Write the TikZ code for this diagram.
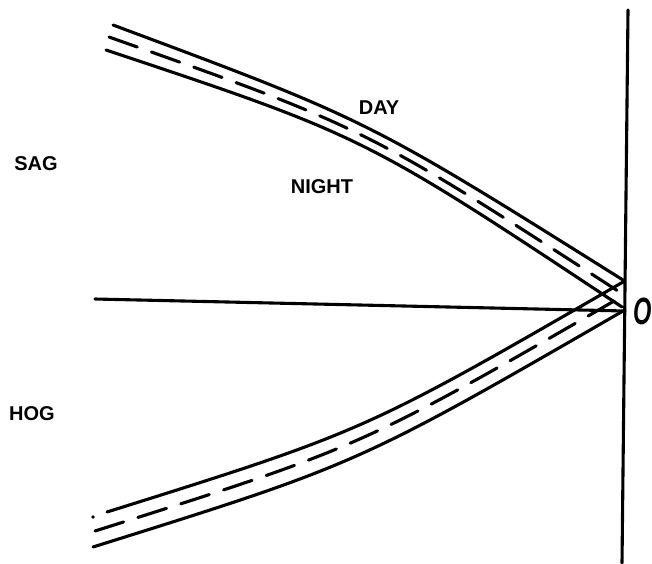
\documentclass[tikz,border=0pt]{standalone}
\usepackage{fontspec}
\setmainfont{Liberation Sans}
\begin{document}
\begin{tikzpicture}[x=1pt,y=-1pt,
  solidline/.style={line width=3.1pt,line cap=round},
  dashline/.style={line width=3.1pt,line cap=round,dash pattern=on 30pt off 15pt},
  lbl/.style={font=\bfseries\fontsize{20}{20}\selectfont,inner sep=0pt}]
\useasboundingbox (0,0) rectangle (652,563);
% axes
\coordinate (vt) at (628,10);
\coordinate (vb) at (622,563);
\draw[solidline] (vt) -- (vb);
\coordinate (hl) at (95,299);
\coordinate (hr) at (625,311);
\draw[solidline] (hl) -- (hr);
% upper band
\coordinate (u1a) at (113,25);  \coordinate (u1b) at (623,280);
\coordinate (u2a) at (109,37);  \coordinate (u2b) at (621,293);
\coordinate (u3a) at (106,50);  \coordinate (u3b) at (622,307);
\draw[solidline] (u1a) .. controls (368,120) .. (u1b);
\draw[dashline]  (u2a) .. controls (366,128) .. (u2b);
\draw[solidline] (u3a) .. controls (364,136) .. (u3b);
% lower band
\coordinate (l1a) at (107,512); \coordinate (l1b) at (623,282);
\coordinate (l2a) at (95,531);  \coordinate (l2b) at (621,297);
\coordinate (l3a) at (93,547);  \coordinate (l3b) at (623,311);
\draw[solidline] (l1a) .. controls (365,431) .. (l1b);
\draw[dashline]  (l2a) .. controls (361,447) .. (l2b);
\draw[solidline] (l3a) .. controls (358,464) .. (l3b);
\fill (93,517) circle (1.8pt);
% labels
\node[lbl] (day) at (379,108) {DAY};
\node[lbl] (night) at (322,187) {NIGHT};
\node[lbl] (sag) at (36,164) {SAG};
\node[lbl] (hog) at (32,414) {HOG};
\node[font=\bfseries\itshape\fontsize{38}{38}\selectfont,inner sep=0pt] (o) at (643,311) {\scalebox{0.62}[1]{O}};
\end{tikzpicture}
\end{document}
